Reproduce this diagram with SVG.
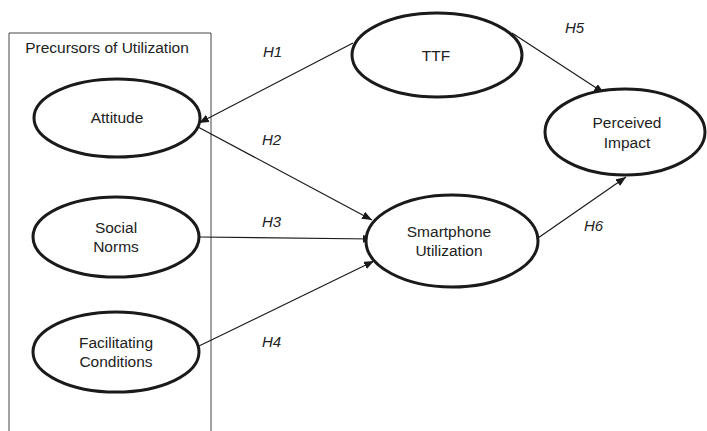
<svg xmlns="http://www.w3.org/2000/svg" width="707" height="431" viewBox="0 0 707 431">
<style>
.node{fill:#fff;stroke:#1a1a1a;stroke-width:3}
.t{font-family:"Liberation Sans",Arial,sans-serif;font-size:15.5px;fill:#222;text-anchor:middle}
.h{font-family:"Liberation Sans",Arial,sans-serif;font-size:15px;font-style:italic;fill:#222}
.c{stroke:#1a1a1a;stroke-width:1.2;fill:none;marker-end:url(#arr)}
</style>
<defs>
<marker id="arr" viewBox="0 0 10 8" refX="10" refY="4" markerWidth="10" markerHeight="8" markerUnits="userSpaceOnUse" orient="auto">
<path d="M0,0 L10,4 L0,8 Z" fill="#1a1a1a"/>
</marker>
</defs>
<rect width="707" height="431" fill="#fff"/>
<g id="precursors-box">
<path d="M9,431 V33 H211 V431" fill="none" stroke="#444" stroke-width="1"/>
<text class="t" x="107" y="53">Precursors of Utilization</text>
</g>
<g id="connectors">
<line class="c" x1="353" y1="43" x2="199" y2="123"/>
<line class="c" x1="198" y1="127" x2="372" y2="220"/>
<line class="c" x1="199" y1="237" x2="373" y2="239"/>
<line class="c" x1="197" y1="347" x2="374" y2="261"/>
<line class="c" x1="512" y1="33" x2="604" y2="93"/>
<line class="c" x1="538" y1="238" x2="626" y2="177"/>
</g>
<g id="labels">
<text class="h" x="263" y="57">H1</text>
<text class="h" x="262" y="145">H2</text>
<text class="h" x="262" y="227">H3</text>
<text class="h" x="262" y="347">H4</text>
<text class="h" x="565" y="33">H5</text>
<text class="h" x="584" y="231">H6</text>
</g>
<g id="attitude">
<ellipse class="node" cx="117" cy="118" rx="83" ry="39"/>
<text class="t" x="117" y="123">Attitude</text>
</g>
<g id="social-norms">
<ellipse class="node" cx="116" cy="237" rx="83" ry="40"/>
<text class="t" x="116" y="233">Social</text>
<text class="t" x="116" y="252">Norms</text>
</g>
<g id="facilitating-conditions">
<ellipse class="node" cx="116" cy="352" rx="83" ry="40"/>
<text class="t" x="116" y="348">Facilitating</text>
<text class="t" x="116" y="367">Conditions</text>
</g>
<g id="ttf">
<ellipse class="node" cx="437" cy="55" rx="85" ry="42"/>
<text class="t" x="436" y="61">TTF</text>
</g>
<g id="perceived-impact">
<ellipse class="node" cx="625" cy="132" rx="80" ry="43"/>
<text class="t" x="627" y="128">Perceived</text>
<text class="t" x="627" y="148">Impact</text>
</g>
<g id="smartphone-utilization">
<ellipse class="node" cx="452" cy="241" rx="86" ry="46"/>
<text class="t" x="449" y="237">Smartphone</text>
<text class="t" x="449" y="256">Utilization</text>
</g>
</svg>
